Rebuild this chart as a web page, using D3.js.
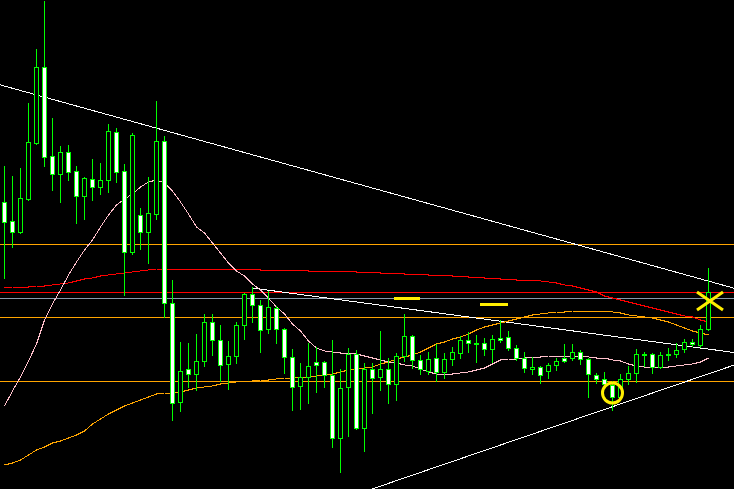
<!DOCTYPE html>
<html>
<head>
<meta charset="utf-8">
<script src="https://cdn.jsdelivr.net/npm/d3@7"></script>
<style>
  html, body { margin: 0; padding: 0; background: #000; overflow: hidden; }
  svg { display: block; }
</style>
</head>
<body>
<svg id="chart"></svg>
<script>
const WIDTH = 734;
const HEIGHT = 489;

// bar prices, oldest bar first
const OPEN = [109.98,109.79,109.68,110.01,110.57,111.33,110.44,110.26,110.48,110.29,
  110.04,110.21,110.13,110.20,110.68,110.29,109.48,109.85,109.68,109.86,
  110.59,108.97,107.98,108.31,108.26,108.39,108.78,108.60,108.36,108.44,
  108.75,109.06,108.95,108.71,108.92,108.71,108.43,108.14,108.23,108.38,
  108.38,108.25,107.62,108.13,108.46,107.72,108.31,108.23,108.31,108.16,
  108.44,108.64,108.40,108.29,108.42,108.28,108.41,108.47,108.60,108.57,
  108.57,108.51,108.62,108.63,108.52,108.42,108.31,108.33,108.29,108.35,
  108.42,108.42,108.48,108.41,108.25,108.21,108.15,108.03,108.21,108.27,
  108.46,108.46,108.33,108.45,108.46,108.51,108.58,108.55,108.71];
const HIGH = [110.34,110.24,110.32,110.97,111.51,111.99,110.82,110.54,110.55,110.34,
  110.23,110.41,110.37,110.76,110.72,110.36,110.67,109.92,110.23,110.99,
  110.64,109.20,108.58,108.57,108.66,108.86,108.86,108.75,108.59,108.78,
  109.07,109.13,109.00,109.09,108.94,108.72,108.51,108.37,108.57,108.53,
  108.39,108.60,108.31,108.52,108.50,108.37,108.37,108.69,108.42,108.47,
  108.86,108.65,108.45,108.48,108.56,108.47,108.53,108.64,108.68,108.65,
  108.62,108.65,108.80,108.69,108.55,108.48,108.43,108.34,108.37,108.42,
  108.56,108.56,108.50,108.42,108.27,108.28,108.19,108.26,108.34,108.51,
  108.48,108.47,108.48,108.52,108.57,108.61,108.61,108.75,109.32];
const LOW = [109.22,109.53,109.67,110.00,110.56,110.34,110.10,109.98,110.20,109.77,
  109.81,110.00,110.06,110.08,110.18,109.05,109.46,109.51,109.37,109.81,
  108.83,107.80,107.89,108.13,108.10,108.34,108.45,108.19,108.11,108.37,
  108.61,108.78,108.48,108.67,108.57,108.27,107.90,107.91,107.97,108.08,
  108.13,107.53,107.28,107.64,107.71,107.49,107.87,108.10,107.97,108.00,
  108.39,108.32,108.26,108.26,108.19,108.22,108.35,108.42,108.48,108.38,
  108.45,108.38,108.58,108.50,108.40,108.28,108.26,108.17,108.22,108.30,
  108.38,108.40,108.36,108.03,108.17,108.14,107.90,108.00,108.16,108.18,
  108.34,108.27,108.32,108.40,108.43,108.48,108.54,108.53,108.70];
const CLOSE = [109.78,109.68,110.02,110.58,111.33,110.43,110.26,110.48,110.28,110.04,
  110.22,110.13,110.20,110.69,110.28,109.48,110.65,109.68,109.87,110.59,
  108.97,107.97,108.29,108.26,108.39,108.78,108.60,108.35,108.44,108.75,
  109.06,108.95,108.70,108.93,108.71,108.43,108.13,108.23,108.34,108.35,
  108.25,107.62,108.12,108.46,107.72,108.31,108.22,108.31,108.16,108.44,
  108.64,108.40,108.31,108.41,108.28,108.41,108.48,108.60,108.57,108.56,
  108.51,108.61,108.60,108.52,108.42,108.32,108.33,108.25,108.35,108.39,
  108.39,108.48,108.41,108.26,108.21,108.16,108.03,108.21,108.27,108.46,
  108.45,108.33,108.45,108.46,108.50,108.58,108.56,108.71,109.08];

// moving averages, one value per bar
const MA_FAST = [107.94,108.09,108.23,108.39,108.56,108.80,108.96,109.10,109.25,109.38,
  109.50,109.60,109.73,109.85,109.95,110.01,110.06,110.13,110.18,110.20,
  110.17,110.09,109.98,109.86,109.73,109.67,109.57,109.47,109.37,109.29,
  109.24,109.16,109.10,109.02,108.93,108.86,108.76,108.69,108.59,108.52,
  108.49,108.48,108.47,108.47,108.46,108.44,108.42,108.40,108.38,108.37,
  108.35,108.34,108.31,108.28,108.26,108.26,108.26,108.27,108.28,108.30,
  108.32,108.36,108.40,108.41,108.41,108.42,108.43,108.43,108.44,108.44,
  108.44,108.44,108.44,108.43,108.42,108.42,108.40,108.39,108.36,108.34,
  108.33,108.33,108.33,108.33,108.34,108.35,108.36,108.38,108.42];
const MA_MID = [107.35,107.37,107.40,107.45,107.50,107.53,107.57,107.59,107.62,107.65,
  107.69,107.76,107.81,107.86,107.90,107.94,107.97,108.00,108.03,108.06,
  108.07,108.07,108.08,108.10,108.12,108.13,108.14,108.16,108.17,108.18,
  108.19,108.19,108.20,108.20,108.21,108.22,108.22,108.23,108.23,108.24,
  108.25,108.26,108.28,108.30,108.31,108.32,108.33,108.36,108.38,108.41,
  108.43,108.45,108.48,108.52,108.56,108.58,108.61,108.63,108.66,108.70,
  108.73,108.75,108.77,108.79,108.81,108.83,108.85,108.86,108.87,108.88,
  108.88,108.89,108.89,108.89,108.89,108.89,108.88,108.87,108.85,108.84,
  108.83,108.82,108.80,108.78,108.75,108.72,108.69,108.67,108.65];
const MA_SLOW = [109.12,109.13,109.13,109.13,109.14,109.14,109.15,109.16,109.17,109.19,
  109.21,109.22,109.24,109.25,109.26,109.27,109.28,109.29,109.30,109.31,
  109.31,109.31,109.31,109.31,109.31,109.31,109.31,109.31,109.31,109.31,
  109.31,109.31,109.30,109.30,109.30,109.30,109.30,109.30,109.29,109.29,
  109.29,109.29,109.29,109.29,109.28,109.28,109.28,109.27,109.27,109.27,
  109.26,109.26,109.26,109.25,109.25,109.25,109.24,109.24,109.23,109.23,
  109.22,109.22,109.21,109.21,109.20,109.20,109.20,109.19,109.18,109.17,
  109.15,109.14,109.12,109.10,109.08,109.04,109.02,109.00,108.98,108.96,
  108.94,108.92,108.90,108.88,108.86,108.84,108.83,108.80,108.78];

// horizontal price levels
const LEVELS = [109.56, 109.08, 109.02, 108.83, 108.19];
const LEVEL_KIND = ['orange', 'red', 'gray', 'orange', 'orange'];

// trend lines: two anchors each (bar index, price)
const TREND_BAR1 = [5, 31, 46];
const TREND_PRICE1 = [111.03, 109.12, 107.11];
const TREND_BAR2 = [88, 88, 88];
const TREND_PRICE2 = [109.19, 108.51, 108.26];
const TREND_RAY = ['both', 'right', 'both'];

// yellow drawings
const DASH_FROM = [48.75, 59.5];
const DASH_TO = [52, 63];
const DASH_PRICE = [109.015, 108.955];
const CIRCLE_BAR = 76, CIRCLE_PRICE = 108.07;
const CROSS_BAR = 88.25, CROSS_PRICE = 108.99;

const COLORS = {
  bar: '#00ff00',
  orange: '#ffa500',
  red: '#ff0000',
  gray: '#8899aa',
  pink: '#ffc0cb',
  white: '#ffffff',
  yellow: '#ffee00',
};

const svg = d3.select('#chart')
  .attr('width', WIDTH)
  .attr('height', HEIGHT)
  .style('background', '#000');

const x = d3.scaleLinear().domain([0, OPEN.length - 1]).range([4, 708]);
const y = d3.scaleLinear().domain([107.11, 112]).range([HEIGHT, 0]);
const py = p => Math.round(y(p)) + 0.5;

const g = svg.append('g').attr('shape-rendering', 'crispEdges');

// horizontal levels
g.selectAll('line.level')
  .data(LEVELS)
  .join('line')
  .attr('class', 'level')
  .attr('x1', 0)
  .attr('x2', WIDTH)
  .attr('y1', d => py(d))
  .attr('y2', d => py(d))
  .attr('stroke', (d, i) => COLORS[LEVEL_KIND[i]])
  .attr('stroke-width', 1);

// trend lines
TREND_BAR1.forEach((b1, i) => {
  const b2 = TREND_BAR2[i];
  const p1 = TREND_PRICE1[i];
  const p2 = TREND_PRICE2[i];
  const priceAt = b => p1 + (p2 - p1) * (b - b1) / (b2 - b1);
  const left = TREND_RAY[i] === 'both' ? x.invert(0) : b1;
  const right = x.invert(WIDTH);
  g.append('line')
    .attr('x1', x(left))
    .attr('y1', y(priceAt(left)))
    .attr('x2', x(right))
    .attr('y2', y(priceAt(right)))
    .attr('stroke', COLORS.white)
    .attr('stroke-width', 1);
});

// moving averages
const maLine = d3.line()
  .x((d, i) => x(i) + 0.5)
  .y(d => y(d));

[[MA_SLOW, COLORS.red], [MA_MID, COLORS.orange], [MA_FAST, COLORS.pink]].forEach(([values, color]) => {
  g.append('path')
    .datum(values)
    .attr('d', maLine)
    .attr('fill', 'none')
    .attr('stroke', color)
    .attr('stroke-width', 1);
});

// candles
const bars = g.selectAll('g.candle')
  .data(OPEN.map((o, i) => ({ i, o, h: HIGH[i], l: LOW[i], c: CLOSE[i] })))
  .join('g')
  .attr('class', 'candle');

bars.append('line')
  .attr('x1', d => x(d.i) + 0.5)
  .attr('x2', d => x(d.i) + 0.5)
  .attr('y1', d => Math.round(y(d.h)))
  .attr('y2', d => Math.round(y(d.l)) + 1)
  .attr('stroke', COLORS.bar)
  .attr('stroke-width', 1);

bars.append('rect')
  .attr('x', d => x(d.i) - 1.5)
  .attr('width', 4)
  .attr('y', d => Math.round(y(Math.max(d.o, d.c))) + 0.5)
  .attr('height', d => Math.max(1, Math.round(y(Math.min(d.o, d.c))) - Math.round(y(Math.max(d.o, d.c)))))
  .attr('fill', d => (d.c < d.o ? '#ffffff' : '#000000'))
  .attr('stroke', COLORS.bar)
  .attr('stroke-width', 1);

// yellow drawings
const marks = svg.append('g')
  .attr('stroke', COLORS.yellow)
  .attr('stroke-width', 3)
  .attr('fill', 'none');

marks.selectAll('line.dash')
  .data(DASH_PRICE)
  .join('line')
  .attr('class', 'dash')
  .attr('shape-rendering', 'crispEdges')
  .attr('x1', (d, i) => x(DASH_FROM[i]))
  .attr('x2', (d, i) => x(DASH_TO[i]))
  .attr('y1', d => y(d))
  .attr('y2', d => y(d));

marks.append('circle')
  .attr('cx', x(CIRCLE_BAR) + 0.5)
  .attr('cy', y(CIRCLE_PRICE))
  .attr('r', 10);

const cx = x(CROSS_BAR), cy = y(CROSS_PRICE);
marks.append('path')
  .attr('d', `M${cx - 13},${cy - 9}L${cx + 13},${cy + 9}M${cx - 13},${cy + 9}L${cx + 13},${cy - 9}`);
</script>
</body>
</html>
